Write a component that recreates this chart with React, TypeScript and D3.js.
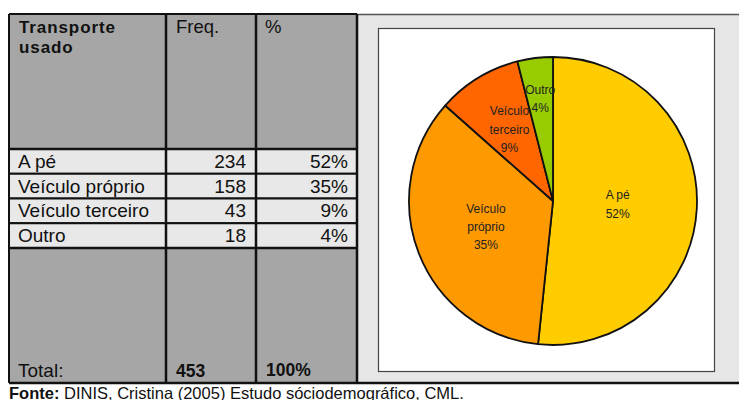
import React from 'react';
import * as d3 from 'd3';

// data
const categories = ['A pé', 'Veículo próprio', 'Veículo terceiro', 'Outro'];
const freq = [234, 158, 43, 18];
const pctLabels = ['52%', '35%', '9%', '4%'];
const totalLabel = '453';
const totalPct = '100%';
const pieLabelLines = [['A pé'], ['Veículo', 'próprio'], ['Veículo', 'terceiro'], ['Outro']];
const sliceColors = ['#FFCC00', '#FF9900', '#FF6600', '#99CC00'];
// how far out each label sits, as a share of the radius
const labelRadius = [0.45, 0.5, 0.58, 0.715];

const W = 739;
const H = 400;
const font = '"Liberation Sans", Arial, sans-serif';

const tableLeft = 9;
const tableTop = 14;
const tableBottom = 383;
const colX = [9, 166, 256, 357];
const headerBottom = 149;
const rowsBottom = 248;

const App = () => {
  const rowScale = d3.scaleBand<string>()
    .domain(categories)
    .range([headerBottom, rowsBottom]);

  const cx = 553;
  const cy = 201;
  const r = 144;

  const pie = d3.pie<number>().sort(null).value(d => d);
  const arcs = pie(freq);
  const arc = d3.arc<d3.PieArcDatum<number>>().innerRadius(0).outerRadius(r);

  return (
    <svg width={W} height={H} style={{ position: 'absolute', left: 0, top: 0 }}>
      <rect width={W} height={H} fill="#fff" />

      {/* right panel */}
      <rect x={colX[3]} y={tableTop} width={W - colX[3]} height={tableBottom - tableTop} fill="#e6e6e6" />
      <line x1={colX[3]} x2={W} y1={tableTop + 0.5} y2={tableTop + 0.5} stroke="#555" strokeWidth={1.5} />
      <rect x={378.5} y={28.5} width={336} height={343} fill="#fff" stroke="#444" strokeWidth={1.2} />

      {/* table header + total blocks */}
      <rect x={tableLeft} y={tableTop} width={colX[3] - tableLeft} height={headerBottom - tableTop} fill="#a6a6a6" />
      <rect x={tableLeft} y={rowsBottom} width={colX[3] - tableLeft} height={tableBottom - rowsBottom} fill="#a6a6a6" />

      {/* data rows */}
      {categories.map((c, i) => {
        const y = rowScale(c) as number;
        const h = rowScale.bandwidth();
        return (
          <g key={c}>
            <rect x={tableLeft} y={y} width={colX[3] - tableLeft} height={h} fill="#e8e8e8" stroke="#111" strokeWidth={2} />
            <text x={18} y={y + h / 2 + 6.5} fontFamily={font} fontSize={19} fill="#111">{c}</text>
            <text x={246} y={y + h / 2 + 6.5} fontFamily={font} fontSize={19} fill="#111" textAnchor="end">{freq[i]}</text>
            <text x={348} y={y + h / 2 + 6.5} fontFamily={font} fontSize={19} fill="#111" textAnchor="end">{pctLabels[i]}</text>
          </g>
        );
      })}
      <line x1={tableLeft} x2={colX[3]} y1={headerBottom} y2={headerBottom} stroke="#111" strokeWidth={2.5} />
      <line x1={tableLeft} x2={colX[3]} y1={rowsBottom} y2={rowsBottom} stroke="#111" strokeWidth={2.5} />

      {/* header text */}
      <text fontFamily={font} fontSize={17} fontWeight="bold" fill="#111" letterSpacing={0.9}>
        <tspan x={19} y={33}>Transporte</tspan>
        <tspan x={19} y={53}>usado</tspan>
      </text>
      <text x={176} y={33} fontFamily={font} fontSize={18.5} fill="#111">Freq.</text>
      <text x={265} y={33} fontFamily={font} fontSize={18.5} fill="#111">%</text>

      {/* total row */}
      <text x={18} y={377} fontFamily={font} fontSize={19} fill="#111">Total:</text>
      <text x={176} y={377} fontFamily={font} fontSize={17.5} fontWeight="bold" fill="#111">{totalLabel}</text>
      <text x={266} y={376} fontFamily={font} fontSize={17.5} fontWeight="bold" fill="#111">{totalPct}</text>

      {/* vertical rules and outer frame */}
      {colX.map((x, i) => (
        <line key={i} x1={x} x2={x} y1={tableTop} y2={tableBottom} stroke="#111" strokeWidth={i === 0 ? 2 : 2.5} />
      ))}
      <line x1={tableLeft} x2={colX[3]} y1={tableTop} y2={tableTop} stroke="#111" strokeWidth={2} />
      <line x1={tableLeft} x2={W} y1={tableBottom} y2={tableBottom} stroke="#111" strokeWidth={2.5} />

      {/* pie */}
      <g transform={`translate(${cx},${cy})`}>
        {arcs.map((a, i) => (
          <path key={i} d={arc(a) as string} fill={sliceColors[i]} stroke="#111" strokeWidth={1.8} strokeLinejoin="round" />
        ))}
        {arcs.map((a, i) => {
          const lr = r * labelRadius[i];
          const [lx, ly] = d3.arc<d3.PieArcDatum<number>>().innerRadius(lr).outerRadius(lr).centroid(a);
          const lines = [...pieLabelLines[i], pctLabels[i]];
          const lh = 18.3;
          const y0 = ly - ((lines.length - 1) * lh) / 2 + 4;
          return (
            <text key={i} fontFamily={font} fontSize={12} fill="#222" textAnchor="middle">
              {lines.map((t, j) => (
                <tspan key={j} x={lx} y={y0 + j * lh}>{t}</tspan>
              ))}
            </text>
          );
        })}
      </g>

      {/* source */}
      <text x={9} y={399} fontFamily={font} fontSize={16.5} fill="#111">
        <tspan fontWeight="bold">Fonte:</tspan> DINIS, Cristina (2005) Estudo sóciodemográfico, CML.
      </text>
    </svg>
  );
};

export default App;
